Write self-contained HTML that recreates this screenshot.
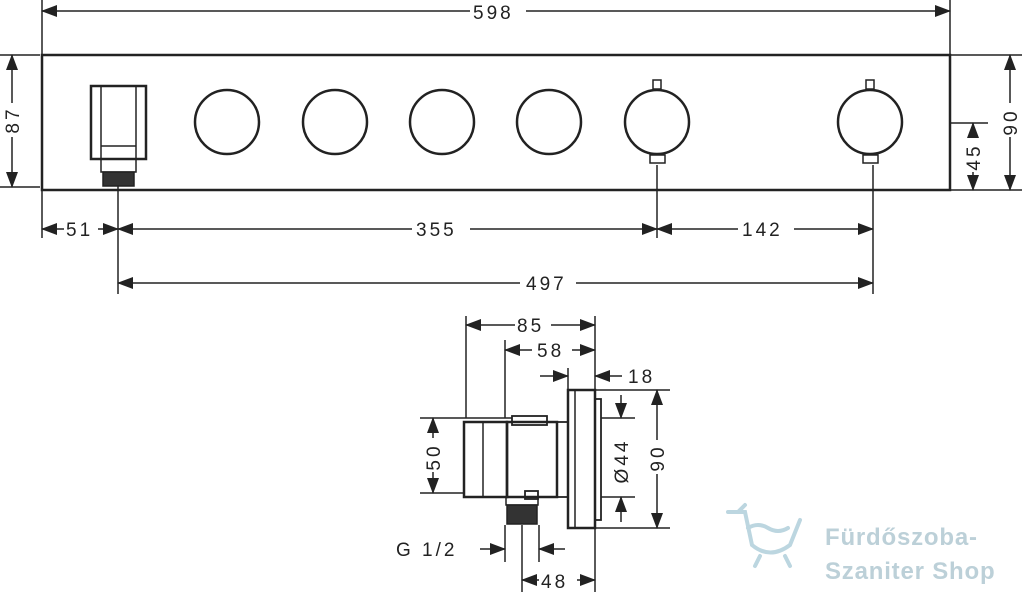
<!DOCTYPE html>
<html><head><meta charset="utf-8"><style>
html,body{margin:0;padding:0;background:#fff;width:1024px;height:596px;overflow:hidden}
text{font-family:"Liberation Sans",sans-serif;font-size:19px;fill:#222;letter-spacing:3px}
</style></head><body>
<svg width="1024" height="596" viewBox="0 0 1024 596" xmlns="http://www.w3.org/2000/svg">
<defs>
<marker id="a" markerUnits="userSpaceOnUse" markerWidth="16" markerHeight="12" refX="15" refY="6" orient="auto-start-reverse">
<path d="M0,0 L16,6 L0,12 Z" fill="#222"/></marker>
</defs>
<g stroke="#222" stroke-width="1.5" fill="none">
<line x1="42" y1="0" x2="42" y2="55"/><line x1="950" y1="0" x2="950" y2="55"/>
<line x1="42" y1="11" x2="950" y2="11" marker-start="url(#a)" marker-end="url(#a)"/>
<rect x="42" y="55" width="908" height="135" stroke-width="2.5"/>
<line x1="0" y1="55" x2="40" y2="55"/><line x1="0" y1="187" x2="40" y2="187"/>
<line x1="12" y1="55" x2="12" y2="187" marker-start="url(#a)" marker-end="url(#a)"/>
<line x1="950" y1="55" x2="1022" y2="55"/><line x1="950" y1="190" x2="1022" y2="190"/>
<line x1="950" y1="123" x2="988" y2="123"/>
<line x1="1010" y1="55" x2="1010" y2="190" marker-start="url(#a)" marker-end="url(#a)"/>
<line x1="973" y1="123" x2="973" y2="190" marker-start="url(#a)" marker-end="url(#a)"/>
<g stroke-width="2.5">
<circle cx="227" cy="122" r="32"/><circle cx="335" cy="122" r="32"/>
<circle cx="442" cy="122" r="32"/><circle cx="549" cy="122" r="32"/>
<circle cx="657" cy="122" r="32"/><circle cx="870" cy="122" r="32"/>
</g>
<rect x="653" y="80" width="8" height="9"/><rect x="650" y="155" width="15" height="8"/>
<rect x="866" y="80" width="8" height="9"/><rect x="863" y="155" width="15" height="8"/>
<rect x="91" y="86" width="55" height="73" stroke-width="2.5"/>
<line x1="101" y1="86" x2="101" y2="159"/><line x1="136" y1="86" x2="136" y2="159"/>
<line x1="101" y1="146" x2="136" y2="146"/>
<rect x="101" y="159" width="35" height="13"/>
<rect x="103" y="172" width="31" height="14" fill="#333"/>
<line x1="42" y1="190" x2="42" y2="238"/><line x1="118" y1="186" x2="118" y2="294"/>
<line x1="657" y1="165" x2="657" y2="238"/><line x1="873" y1="165" x2="873" y2="294"/>
<line x1="42" y1="229" x2="118" y2="229" marker-start="url(#a)" marker-end="url(#a)"/>
<line x1="118" y1="229" x2="657" y2="229" marker-start="url(#a)" marker-end="url(#a)"/>
<line x1="657" y1="229" x2="873" y2="229" marker-start="url(#a)" marker-end="url(#a)"/>
<line x1="118" y1="283" x2="873" y2="283" marker-start="url(#a)" marker-end="url(#a)"/>
<line x1="466" y1="316" x2="466" y2="418"/><line x1="505" y1="340" x2="505" y2="418"/>
<line x1="595" y1="316" x2="595" y2="390"/>
<line x1="466" y1="325" x2="595" y2="325" marker-start="url(#a)" marker-end="url(#a)"/>
<line x1="505" y1="350" x2="595" y2="350" marker-start="url(#a)" marker-end="url(#a)"/>
<line x1="540" y1="376" x2="568" y2="376" marker-end="url(#a)"/>
<line x1="568" y1="368" x2="568" y2="390"/>
<line x1="622" y1="376" x2="595" y2="376" marker-end="url(#a)"/>
<g stroke-width="2.5">
<rect x="568" y="390" width="27" height="138"/>
<rect x="595" y="399" width="6" height="121" stroke-width="1.8"/>
<rect x="507" y="422" width="50" height="75"/>
<rect x="557" y="422" width="11" height="75" stroke-width="1.8"/>
<rect x="464" y="422" width="43" height="75"/>
<rect x="512" y="416" width="35" height="9" stroke-width="1.8"/>
<rect x="525" y="491" width="13" height="8" stroke-width="1.8"/>
</g>
<line x1="575" y1="390" x2="575" y2="528"/>
<line x1="483" y1="422" x2="483" y2="497"/>
<rect x="506" y="497" width="32" height="8"/>
<rect x="507" y="505" width="30" height="19" fill="#333"/>
<line x1="420" y1="418" x2="512" y2="418"/><line x1="420" y1="493" x2="465" y2="493"/>
<line x1="433" y1="418" x2="433" y2="493" marker-start="url(#a)" marker-end="url(#a)"/>
<line x1="601" y1="418" x2="635" y2="418"/><line x1="601" y1="497" x2="635" y2="497"/>
<line x1="621" y1="395" x2="621" y2="418" marker-end="url(#a)"/>
<line x1="621" y1="522" x2="621" y2="497" marker-end="url(#a)"/>
<line x1="595" y1="390" x2="670" y2="390"/><line x1="595" y1="528" x2="670" y2="528"/>
<line x1="657" y1="390" x2="657" y2="528" marker-start="url(#a)" marker-end="url(#a)"/>
<line x1="505" y1="525" x2="505" y2="562"/><line x1="539" y1="525" x2="539" y2="562"/>
<line x1="480" y1="549" x2="505" y2="549" marker-end="url(#a)"/>
<line x1="565" y1="549" x2="539" y2="549" marker-end="url(#a)"/>
<line x1="522" y1="525" x2="522" y2="592"/><line x1="595" y1="528" x2="595" y2="592"/>
<line x1="522" y1="580" x2="595" y2="580" marker-start="url(#a)" marker-end="url(#a)"/>
</g>
<g fill="#fff">
<rect x="470" y="0" width="56" height="22"/>
<rect x="64" y="219" width="34" height="20"/>
<rect x="412" y="219" width="58" height="20"/>
<rect x="738" y="219" width="56" height="20"/>
<rect x="520" y="273" width="56" height="20"/>
<rect x="515" y="315" width="36" height="20"/>
<rect x="532" y="340" width="40" height="20"/>
<rect x="2" y="103" width="20" height="34"/>
<rect x="1000" y="103" width="20" height="34"/>
<rect x="963" y="138" width="20" height="34"/>
<rect x="423" y="438" width="20" height="34"/>
<rect x="647" y="440" width="20" height="34"/>
<rect x="611" y="432" width="20" height="56"/>
<rect x="539" y="570" width="38" height="20"/>
</g>
<text x="473" y="19">598</text>
<text x="66" y="236">51</text>
<text x="416" y="236">355</text>
<text x="742" y="236">142</text>
<text x="526" y="290">497</text>
<text x="517" y="332">85</text>
<text x="537" y="357">58</text>
<text x="628" y="383">18</text>
<text x="396" y="556">G 1/2</text>
<text x="541" y="588">48</text>
<text transform="translate(19,120) rotate(-90)" text-anchor="middle">87</text>
<text transform="translate(1017,122) rotate(-90)" text-anchor="middle">90</text>
<text transform="translate(980,157) rotate(-90)" text-anchor="middle">45</text>
<text transform="translate(440,457) rotate(-90)" text-anchor="middle">50</text>
<text transform="translate(664,458) rotate(-90)" text-anchor="middle">90</text>
<text transform="translate(628,461) rotate(-90)" text-anchor="middle">Ø44</text>
<g stroke="#bcd6e0" stroke-width="4" fill="none" stroke-linecap="round">
<path d="M728,512 L745,512 L752,545 Q770,560 790,545 L800,520"/>
<path d="M748,528 Q758,522 768,528 T788,528"/>
<path d="M760,556 L755,566 M785,556 L790,566"/>
<path d="M738,512 L745,505"/>
</g>
<text x="825" y="545" style="font-family:'Liberation Sans',sans-serif;font-weight:bold;font-size:24px;fill:#bcd0d8;letter-spacing:0.8px">Fürdőszoba-</text>
<text x="825" y="579" style="font-family:'Liberation Sans',sans-serif;font-weight:bold;font-size:24px;fill:#bcd0d8;letter-spacing:0.8px">Szaniter Shop</text>
</svg>
</body></html>
